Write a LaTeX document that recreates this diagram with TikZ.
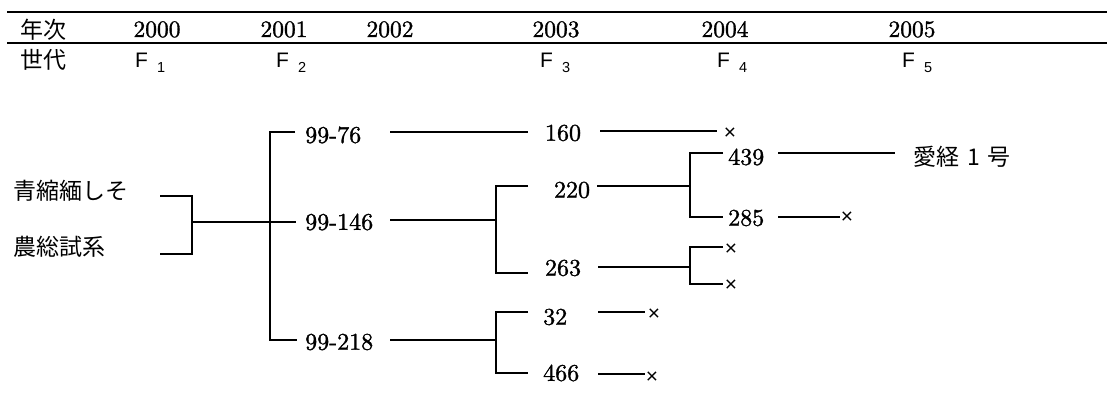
\documentclass[tikz,border=0pt]{standalone}
\usepackage{fontspec}
\newfontfamily\cjk{Noto Sans CJK JP}
\newfontfamily\sans{Liberation Sans}
\newfontfamily\numfont{lmroman10-regular}[Extension=.otf, FakeBold=1.3]
\tikzset{
  num/.style={font=\numfont\fontsize{24}{24}\selectfont, inner sep=0pt},
  yr/.style={font=\numfont\fontsize{23.5}{23.5}\selectfont, inner sep=0pt, anchor=base},
  jp/.style={font=\cjk\fontsize{23}{23}\selectfont, inner sep=0pt},
  gen/.style={font=\sans\fontsize{21}{21}\selectfont, inner sep=0pt, anchor=base west},
  dead/.style={font=\sans\fontsize{21}{21}\selectfont, inner sep=0pt},
  link/.style={line width=1.8pt},
  rulebar/.style={line width=2.4pt}
}
\newcommand{\gsub}[1]{F\hspace{9pt}\raisebox{-5pt}{\fontsize{14.5}{14.5}\selectfont #1}}
\begin{document}
\begin{tikzpicture}[x=1pt,y=-1pt]
\useasboundingbox (0,0) rectangle (1107,406);

% table header
\coordinate (r1l) at (7,12);   \coordinate (r1r) at (1107,12);
\coordinate (r2l) at (7,43);   \coordinate (r2r) at (1107,43);
\draw[rulebar] (r1l) -- (r1r);
\draw[rulebar] (r2l) -- (r2r);
\node[jp, anchor=west] (nenji) at (20,30) {年次};
\node[jp, anchor=west] (sedai) at (20,60) {世代};
\node[yr] (y2000) at (157,37) {2000};
\node[yr] (y2001) at (284,37) {2001};
\node[yr] (y2002) at (390,37) {2002};
\node[yr] (y2003) at (556,37) {2003};
\node[yr] (y2004) at (725,37) {2004};
\node[yr] (y2005) at (912,37) {2005};
\node[gen] (f1) at (135,68) {\gsub{1}};
\node[gen] (f2) at (276,68) {\gsub{2}};
\node[gen] (f3) at (540,68) {\gsub{3}};
\node[gen] (f4) at (717,68) {\gsub{4}};
\node[gen] (f5) at (902,68) {\gsub{5}};

% parents
\node[jp, anchor=west] (pa) at (13,191) {青縮緬しそ};
\node[jp, anchor=west] (pb) at (13,247) {農総試系};
\coordinate (pae) at (160,196); \coordinate (pbe) at (160,254);
\coordinate (pat) at (192,196); \coordinate (pbt) at (192,254);
\coordinate (pm) at (192,222);
\draw[link] (pae) -- (pat) -- (pbt) -- (pbe);

% F2 lines
\coordinate (v2t) at (270,132); \coordinate (v2b) at (270,340);
\coordinate (t76) at (295,132); \coordinate (t146) at (296,222); \coordinate (t218) at (297,340);
\draw[link] (pm) -- (t146);
\draw[link] (t76) -- (v2t) -- (v2b) -- (t218);
\node[num, anchor=west] (s76) at (305,135) {99-76};
\node[num, anchor=west] (s146) at (305,222) {99-146};
\node[num, anchor=west] (s218) at (305,342) {99-218};

% 99-76 branch
\coordinate (a76) at (390,132); \coordinate (b76) at (528,132);
\draw[link] (a76) -- (b76);
\node[num] (s160) at (563,133) {160};
\coordinate (a160) at (600,131); \coordinate (b160) at (717,131);
\draw[link] (a160) -- (b160);
\node[dead] (x160) at (730,134) {×};

% 99-146 branch
\coordinate (a146) at (390,220); \coordinate (j146) at (496,220);
\coordinate (j146t) at (496,186); \coordinate (j146b) at (496,273);
\coordinate (e220) at (528,186); \coordinate (e263) at (528,273);
\draw[link] (a146) -- (j146);
\draw[link] (e220) -- (j146t) -- (j146b) -- (e263);
\node[num] (s220) at (572,190) {220};
\node[num] (s263) at (563,268) {263};

\coordinate (a220) at (597,186); \coordinate (j220) at (690,186);
\coordinate (j220t) at (690,153); \coordinate (j220b) at (690,217);
\coordinate (e439) at (723,153); \coordinate (e285) at (723,217);
\draw[link] (a220) -- (j220);
\draw[link] (e439) -- (j220t) -- (j220b) -- (e285);
\node[num, anchor=west] (s439) at (728,157) {439};
\node[num, anchor=west] (s285) at (728,218) {285};
\coordinate (a439) at (778,153); \coordinate (b439) at (895,153);
\draw[link] (a439) -- (b439);
\node[jp, anchor=west] (aikei) at (913,157) {愛経\hspace{8pt}1\hspace{8pt}号};
\coordinate (a285) at (778,217); \coordinate (b285) at (840,217);
\draw[link] (a285) -- (b285);
\node[dead] (x285) at (847,218) {×};

\coordinate (a263) at (598,267); \coordinate (j263) at (690,267);
\coordinate (j263t) at (690,247); \coordinate (j263b) at (690,284);
\coordinate (e263a) at (723,247); \coordinate (e263b) at (723,284);
\draw[link] (a263) -- (j263);
\draw[link] (e263a) -- (j263t) -- (j263b) -- (e263b);
\node[dead] (x263a) at (731,250) {×};
\node[dead] (x263b) at (731,286) {×};

% 99-218 branch
\coordinate (a218) at (390,340); \coordinate (j218) at (496,340);
\coordinate (j218t) at (496,312); \coordinate (j218b) at (496,373);
\coordinate (e32) at (528,312); \coordinate (e466) at (528,373);
\draw[link] (a218) -- (j218);
\draw[link] (e32) -- (j218t) -- (j218b) -- (e466);
\node[num, anchor=west] (s32) at (543,317) {32};
\node[num, anchor=west] (s466) at (543,373) {466};
\coordinate (a32) at (598,312); \coordinate (b32) at (645,312);
\draw[link] (a32) -- (b32);
\node[dead] (x32) at (654,315) {×};
\coordinate (a466) at (598,374); \coordinate (b466) at (645,374);
\draw[link] (a466) -- (b466);
\node[dead] (x466) at (652,378) {×};
\end{tikzpicture}
\end{document}
